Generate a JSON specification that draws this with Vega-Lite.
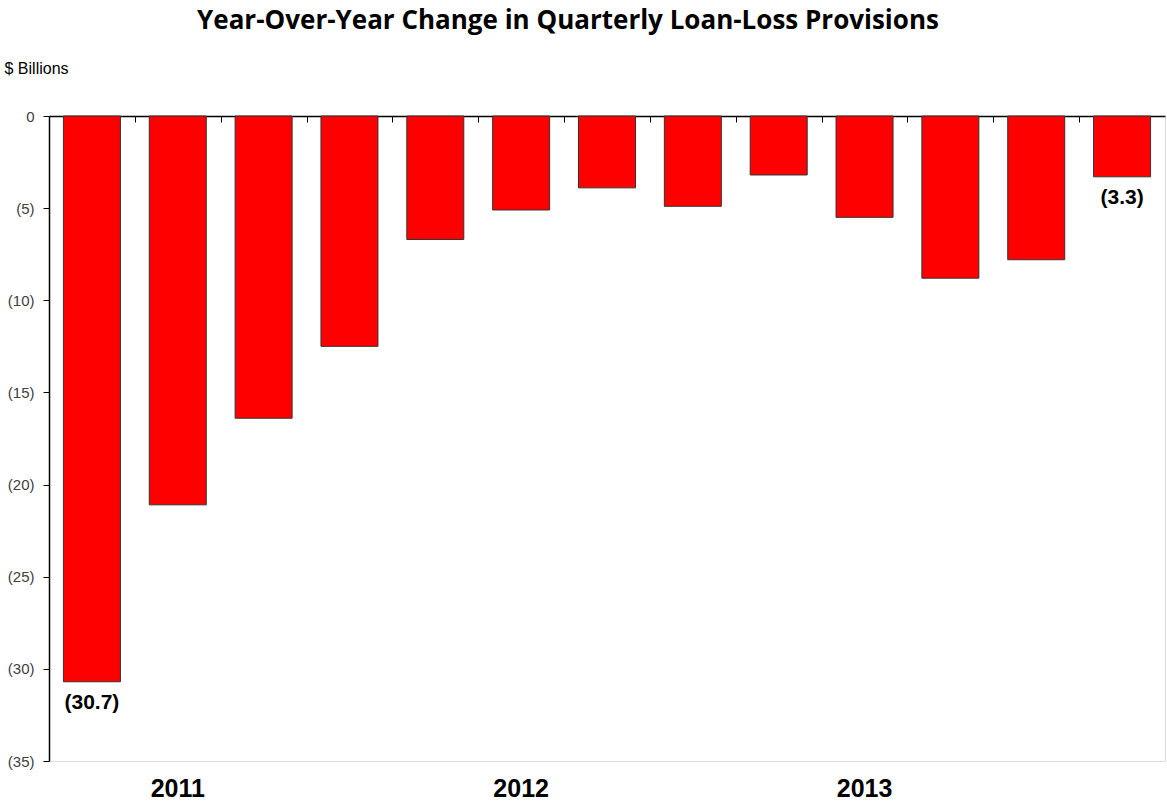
{
  "$schema": "https://vega.github.io/schema/vega-lite/v6.json",
  "width": 1116,
  "height": 645,
  "autosize": {"type": "none"},
  "padding": {"left": 49, "top": 116, "right": 2, "bottom": 41},
  "background": "white",
  "title": {
    "text": "Year-Over-Year Change in Quarterly Loan-Loss Provisions",
    "font": "Open Sans",
    "fontWeight": "bold",
    "fontSize": 26,
    "color": "#000000",
    "anchor": "middle",
    "frame": "group",
    "dx": -39,
    "offset": 26
  },
  "data": {
    "values": [
      {"q": "2011Q1", "value": -30.7, "label": "(30.7)"},
      {"q": "2011Q2", "value": -21.1, "label": ""},
      {"q": "2011Q3", "value": -16.4, "label": ""},
      {"q": "2011Q4", "value": -12.5, "label": ""},
      {"q": "2012Q1", "value": -6.7, "label": ""},
      {"q": "2012Q2", "value": -5.1, "label": ""},
      {"q": "2012Q3", "value": -3.9, "label": ""},
      {"q": "2012Q4", "value": -4.9, "label": ""},
      {"q": "2013Q1", "value": -3.2, "label": ""},
      {"q": "2013Q2", "value": -5.5, "label": ""},
      {"q": "2013Q3", "value": -8.8, "label": ""},
      {"q": "2013Q4", "value": -7.8, "label": ""},
      {"q": "2014Q1", "value": -3.3, "label": "(3.3)"}
    ]
  },
  "encoding": {
    "x": {
      "field": "q",
      "type": "nominal",
      "sort": null,
      "scale": {"paddingInner": 0.336, "paddingOuter": 0.168}
    },
    "y": {
      "field": "value",
      "type": "quantitative",
      "scale": {"domain": [-35, 0], "nice": false, "zero": false},
      "axis": {
        "values": [0, -5, -10, -15, -20, -25, -30, -35],
        "labelExpr": "datum.value == 0 ? '0' : '(' + abs(datum.value) + ')'",
        "grid": false,
        "domainColor": "#000000",
        "domainWidth": 1.5,
        "tickColor": "#000000",
        "tickSize": 6,
        "labelPadding": 9,
        "labelFont": "Liberation Sans",
        "labelFontSize": 15,
        "labelColor": "#404040",
        "title": "$ Billions",
        "titleAngle": 0,
        "titleX": -45,
        "titleY": -48,
        "titleAlign": "left",
        "titleBaseline": "middle",
        "titleFont": "Liberation Sans",
        "titleFontSize": 16,
        "titleFontWeight": "normal",
        "titleColor": "#000000"
      }
    }
  },
  "layer": [
    {
      "mark": {"type": "bar", "color": "#FF0000", "stroke": "#333333", "strokeWidth": 1},
      "encoding": {
        "x": {
          "field": "q",
          "type": "nominal",
          "sort": null,
          "axis": {
            "orient": "top",
            "title": null,
            "labels": false,
            "grid": false,
            "domainColor": "#000000",
            "domainWidth": 1.5,
            "tickColor": "#000000",
            "tickSize": -6,
            "bandPosition": 0,
            "tickOffset": -14.4
          }
        }
      }
    },
    {
      "mark": {"type": "text", "baseline": "top", "dy": 10, "font": "Liberation Sans", "fontWeight": "bold", "fontSize": 21, "color": "#000000"},
      "encoding": {
        "x": {
          "field": "q",
          "type": "nominal",
          "sort": null,
          "axis": {
            "orient": "bottom",
            "title": null,
            "domain": false,
            "ticks": false,
            "grid": false,
            "labelAngle": 0,
            "labelPadding": 15,
            "labelFont": "Liberation Sans",
            "labelFontWeight": "bold",
            "labelFontSize": 25,
            "labelColor": "#000000",
            "labelExpr": "slice(datum.value, 4) == 'Q2' ? slice(datum.value, 0, 4) : ''"
          }
        },
        "text": {"field": "label"}
      }
    }
  ],
  "resolve": {"axis": {"x": "independent"}}
}
